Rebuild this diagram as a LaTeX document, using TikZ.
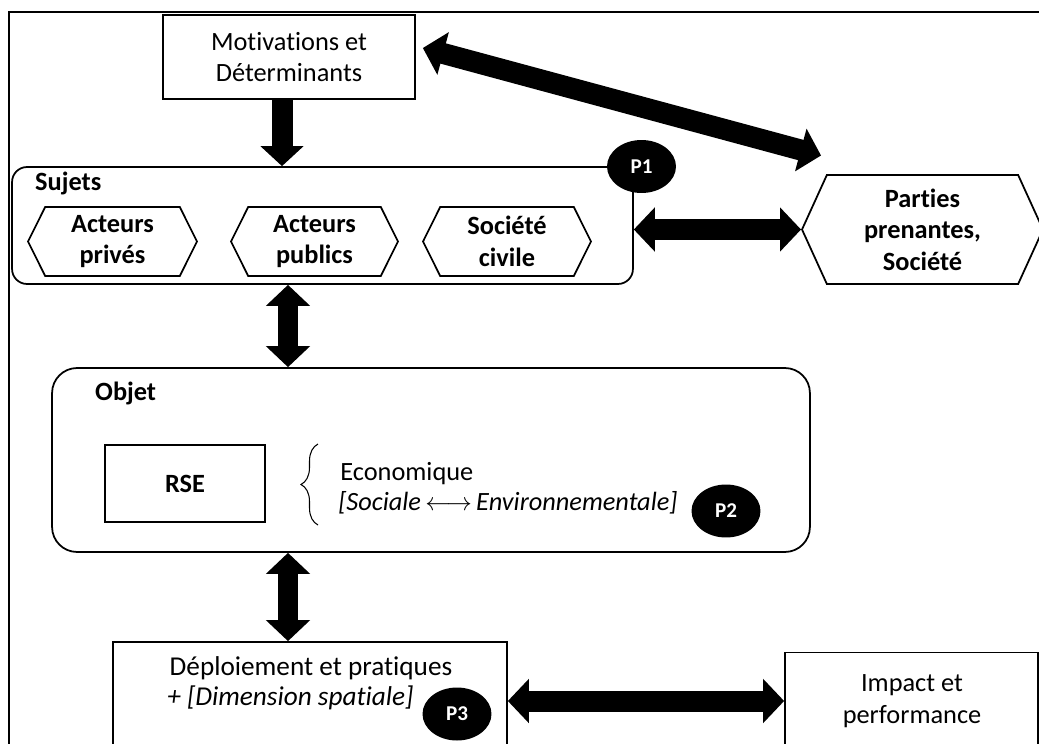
\documentclass[tikz,border=0pt]{standalone}
\usepackage{fontspec}
\setmainfont{Carlito}[Ligatures={NoCommon}]
\usepackage{tikz}
\usetikzlibrary{positioning, arrows.meta, shapes.symbols, shapes.geometric, decorations.pathreplacing}
\tikzset{myFrame/.style={line width=1.1pt,color=black}}
\tikzset{myBox/.style={draw, line width=1pt, fill=white, inner sep=0pt}}
\tikzset{myGroup/.style={myBox, rounded corners=0.3cm}}
\tikzset{myHex/.style={draw, line width=1pt, fill=white, shape=signal, signal to=east and west, signal pointer angle=127, minimum width=3.38cm, minimum height=1.38cm, align=center, inner sep=0pt, font=\bfseries\txtSize}}
\tikzset{myPoint/.style={ellipse, fill=black, text=white, inner sep=0pt, minimum width=1.38cm, minimum height=1.06cm, font=\bfseries\fontsize{12}{14}\selectfont}}
\tikzset{myFatArrow/.style={line width=0.42cm, -{Triangle[width=0.84cm,length=0.4cm]}}}
\tikzset{myFatDouble/.style={line width=0.42cm, {Triangle[width=0.86cm,length=0.42cm]}-{Triangle[width=0.86cm,length=0.42cm]}}}
\newcommand{\txtSize}{\fontsize{15}{18}\selectfont}

\begin{document}
\begin{tikzpicture}[x=0.02cm,y=-0.02cm]
	\useasboundingbox (0,0) rectangle (1039,744);
	\clip (0,0) rectangle (1039,744);
	\draw[myFrame] (9,770) -- (9,12) -- (1060,12);
	\coordinate (colL) at (288,0);

	% sujets
	\node[myGroup, minimum width=12.42cm, minimum height=2.34cm] (sujets) at (322.5,225.5) {};
	\node[anchor=west, font=\bfseries\txtSize] (sujetsLbl) at (29,183) {Sujets};
	\node[myHex] (prives) at (112.5,241.5) {Acteurs\\privés};
	\node[myHex, minimum width=3.34cm] (publics) at (314.5,241.5) {Acteurs\\publics};
	\node[myHex, minimum width=3.36cm] (civile) at (507,241.5) {Société\\civile};
	\node[myPoint] (pA) at (641.5,166.5) {P1};
	\node[myHex, signal pointer angle=131, minimum width=4.82cm, minimum height=2.18cm] (parties) at (922.5,229.5) {Parties\\prenantes,\\Société};

	\node[myBox, minimum width=5.04cm, minimum height=1.68cm, align=center, font=\txtSize] (mot) at (289,57) {Motivations et\\Déterminants};

	% objet
	\node[myGroup, rounded corners=0.5cm, minimum width=15.16cm, minimum height=3.68cm] (objet) at (431,460) {};
	\node[anchor=west, font=\bfseries\txtSize] (objetLbl) at (89,393) {Objet};
	\node[myBox, minimum width=3.2cm, minimum height=1.54cm, font=\bfseries\txtSize] (rse) at (185,483.5) {RSE};
	\draw[decorate, decoration={brace, amplitude=0.34cm}, line width=0.6pt] (318,525) -- (318,444);
	\node[anchor=west, inner sep=0pt, font=\txtSize] (eco) at (340,474) {Economique};
	\node[anchor=west, inner sep=0pt, font=\itshape\txtSize] (dims) at (338,503) {[Sociale\,$\longleftrightarrow$\,Environnementale]};
	\node[myPoint] (pB) at (726,511) {P2};

	% deploiement, impact
	\node[myBox, minimum width=7.88cm, minimum height=2.36cm] (deploy) at (310,701) {};
	\node[font=\fontsize{15.5}{18}\selectfont] (deployTxt) at (311,668) {Déploiement et pratiques};
	\node[anchor=west, inner sep=0pt, font=\itshape\fontsize{15.5}{18}\selectfont] (spatial) at (167,698) {+ [Dimension spatiale]};
	\node[myPoint] (pC) at (457,714) {P3};
	\node[myBox, minimum width=5.06cm, minimum height=2.14cm] (impact) at (911.5,706) {};
	\node[align=center, font=\txtSize] (impactTxt) at (912,701) {Impact et\\performance};

	% fleches
	\draw[myFatArrow] ([xshift=-0.14cm]mot.south) -- ([xshift=-0.14cm]mot.south |- sujets.north);
	\draw[myFatDouble] (sujets.south -| colL) -- (objet.north -| colL);
	\draw[myFatDouble] (objet.south -| colL) -- (deploy.north -| colL);
	\draw[myFatDouble] (sujets.east |- parties.west) -- (parties.west);
	\draw[myFatDouble] (deploy.east) -- (deploy.east -| impact.west);
	\draw[myFatDouble] ([shift={(7,-9)}]mot.east) -- ([shift={(20,-74)}]parties.west);
\end{tikzpicture}
\end{document}
